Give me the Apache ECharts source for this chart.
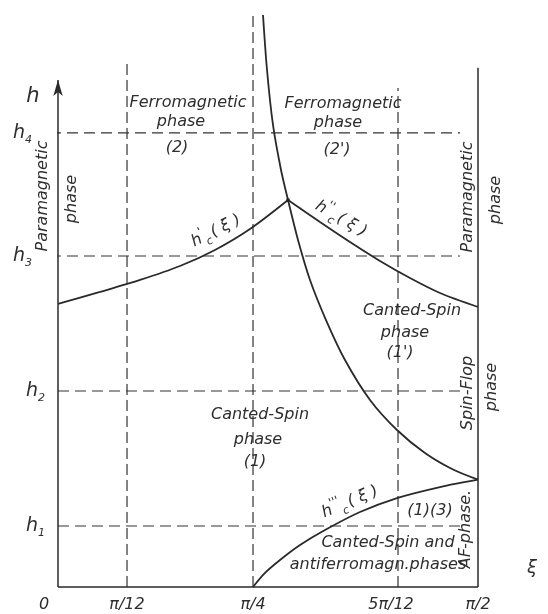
<!DOCTYPE html>
<html>
<head>
<meta charset="utf-8">
<script src="https://cdn.jsdelivr.net/npm/echarts@6/dist/echarts.min.js"></script>
<style>
html,body{margin:0;padding:0;background:#fff;}
#chart{width:548px;height:614px;}
</style>
</head>
<body>
<div id="chart"></div>
<script>
// ---- schematic axis ticks (ξ in degrees-like schematic units, h in arbitrary units) ----
const xTicks = [0, 14.79, 41.79, 72.86, 90];
const xTickLabels = ['0', 'π/12', 'π/4', '5π/12', 'π/2'];
const yTicks = [10.57, 33.97, 57.37, 78.7];
const yTickSubs = ['1', '2', '3', '4'];

// ---- phase boundary curves ----
const hcPrime = [[0,49.05],[9.0,51.13],[17.57,53.21],[26.14,55.63],[33.64,58.41],[41.14,62.04],[49.29,67.07]];
const hcDouble = [[49.29,67.07],[56.14,63.26],[62.57,59.79],[69.0,56.5],[75.43,53.55],[81.86,50.95],[90,48.53]];
const hcSteep = [[43.93,99.13],[44.79,89.6],[46.07,80.07],[47.79,72.27],[49.29,67.07],[51.43,60.14],[54.0,53.21],[57.43,46.27],[61.5,39.34],[66.86,32.41],[72.64,27.21],[78.64,23.22],[84.43,20.45],[90,18.6]];
const hcTriple = [[41.79,0],[44.36,2.43],[47.57,4.68],[51.86,7.28],[57.21,9.88],[64.71,13.0],[72.64,15.42],[81.86,17.33],[90,18.6]];
const triplePoint = [[49.29,67.07]];

// ---- dashed guide lines ----
const vGuideX = [14.79, 41.79, 72.86];
const vGuideTop = [90.81, 99.48, 86.48];
const hGuideY = yTicks;
const hGuideStart = [0, 0, -5.36, -5.36];
const hGuideEnd = [86.6, 86.14, 86.14, 86.14];

// ---- frame ----
const axisTopLeft = 87.87;
const axisTopRight = 90;
const xMax = 90;

const LINE = '#2a2a2a';
const TXT = '#2e2e2e';
const FONT = '"DejaVu Sans", "Liberation Sans", sans-serif';

function nearestIdx(arr, v){let b=0,d=1e9;arr.forEach((a,i)=>{if(Math.abs(a-v)<d){d=Math.abs(a-v);b=i;}});return b;}

const series = [];
function addLine(data, opts){
  series.push(Object.assign({
    type:'line', data:data, symbol:'none', clip:false, silent:true, animation:false,
    lineStyle:{color:LINE, width:1.6}, z:3
  }, opts||{}));
}
// frame lines
addLine([[0,0],{value:[0,axisTopLeft],symbol:'arrow',symbolSize:[7,16]}], {showSymbol:true, itemStyle:{color:LINE}, lineStyle:{color:LINE,width:1.5}});
addLine([[xMax,0],[xMax,axisTopRight]], {lineStyle:{color:LINE,width:1.5}});
addLine([[0,0],[xMax,0]], {lineStyle:{color:LINE,width:1.5}});
// dashed guides
vGuideX.forEach((x,i)=>addLine([[x,0],[x,vGuideTop[i]]], {lineStyle:{color:'#333',width:1.2,type:[11,5]}, z:2}));
hGuideY.forEach((y,i)=>addLine([[hGuideStart[i],y],[hGuideEnd[i],y]], {lineStyle:{color:'#333',width:1.2,type:[11,6]}, z:2}));
// curves
[hcPrime, hcDouble, hcSteep, hcTriple].forEach(c=>addLine(c, {smooth:0.3, lineStyle:{color:LINE,width:1.8}}));
series.push({type:'scatter', data:triplePoint, symbolSize:4, itemStyle:{color:'#222'}, silent:true, animation:false, z:5});

function txt(text, x, y, rot, size){
  return {type:'text', x:x, y:y, rotation:rot||0, silent:true, z:10,
    style:{text:text, fill:TXT, fontSize:size||16, fontStyle:'italic', fontFamily:FONT, align:'center', verticalAlign:'middle'}};
}
function hcLabel(prime, x, y, rot){
  return {type:'text', x:x, y:y, rotation:rot, silent:true, z:10,
    style:{text:'{a|h}{p|'+prime+'}{c|c}{a|( ξ )}', fill:TXT, align:'center', verticalAlign:'middle', fontFamily:FONT, fontStyle:'italic',
      rich:{
        a:{fontSize:16, fontStyle:'italic', fontFamily:FONT, fill:TXT, lineHeight:24},
        p:{fontSize:12, fontStyle:'italic', fontFamily:FONT, fill:TXT, verticalAlign:'top', lineHeight:12},
        c:{fontSize:11, fontStyle:'italic', fontFamily:FONT, fill:TXT, verticalAlign:'bottom', lineHeight:12, padding:[0,2,0,0]}
      }}};
}
const R = Math.PI/2;
const graphics = [
  txt('Ferromagnetic',188,103), txt('phase',181,122), txt('(2)',177,148),
  txt('Ferromagnetic',343,104), txt('phase',338,123), txt("(2')",337,150),
  txt('Paramagnetic',43,196,R), txt('phase',72,199,R),
  txt('Paramagnetic',468,197,R), txt('phase',496,200,R),
  txt('Canted-Spin',412,311), txt('phase',405,333), txt("(1')",400,353),
  txt('Canted-Spin',260,415), txt('phase',258,440), txt('(1)',255,462),
  txt('Spin-Flop',468,393,R), txt('phase',492,387,R),
  txt('AF-phase.',466,529,R),
  txt('(1)(3)',430,511),
  txt('Canted-Spin and',388,543),
  txt('antiferromagn.phases',378,565),
  hcLabel("'",216,231,0.47),
  hcLabel("''",341,219,-0.52),
  hcLabel("'''",350,502,0.40),
  txt('h',33,97,0,21),
  txt('ξ',532,568,0,18)
];

const chart = echarts.init(document.getElementById('chart'), null, {renderer:'canvas'});
chart.setOption({
  backgroundColor:'#fff',
  animation:false,
  grid:{left:58, right:70, top:10, bottom:27, containLabel:false},
  xAxis:{type:'value', min:0, max:xMax,
    axisLine:{show:false}, axisTick:{show:false}, splitLine:{show:false},
    axisLabel:{customValues:xTicks, margin:10,
      formatter:function(v){const i=nearestIdx(xTicks,v); const t=xTickLabels[i];
        if(i===0) return '{z|'+t+'}'; if(i===3) return '{f|'+t+'}'; return '{n|'+t+'}';},
      rich:{
        n:{fontSize:16, fontStyle:'italic', fontFamily:FONT, color:TXT},
        z:{fontSize:16, fontStyle:'italic', fontFamily:FONT, color:TXT, padding:[0,28,0,0]},
        f:{fontSize:16, fontStyle:'italic', fontFamily:FONT, color:TXT, padding:[0,14,0,0]}
      }}
  },
  yAxis:{type:'value', min:0, max:100,
    axisLine:{show:false}, axisTick:{show:false}, splitLine:{show:false},
    axisLabel:{customValues:yTicks, margin:13,
      formatter:function(v){const i=nearestIdx(yTicks,v); return '{h|h}{'+(i>=2?'t':'s')+'|'+yTickSubs[i]+'}';},
      rich:{
        h:{fontSize:19, fontStyle:'italic', fontFamily:FONT, color:TXT, lineHeight:26},
        s:{fontSize:11, fontStyle:'italic', fontFamily:FONT, color:TXT, verticalAlign:'bottom', lineHeight:12},
        t:{fontSize:11, fontStyle:'italic', fontFamily:FONT, color:TXT, verticalAlign:'bottom', lineHeight:12, padding:[0,13,0,0]}
      }}
  },
  series:series,
  graphic:graphics
});
</script>
</body>
</html>
